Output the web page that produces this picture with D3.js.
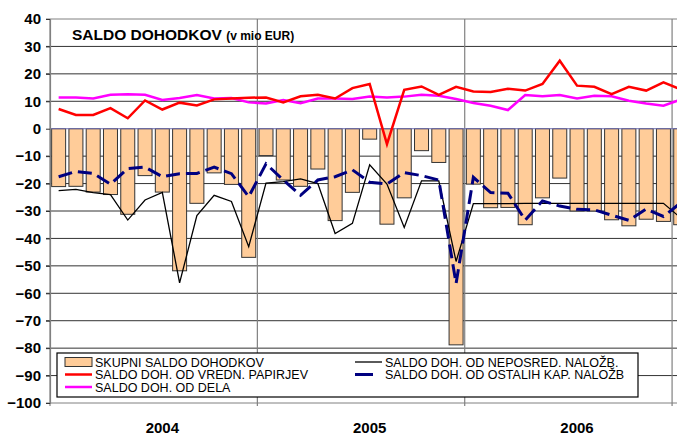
<!DOCTYPE html>
<html>
<head>
<meta charset="utf-8">
<script src="https://cdn.jsdelivr.net/npm/d3@7"></script>
<style>
  body { margin: 0; background: #fff; }
  svg { display: block; font-family: "Liberation Sans", Arial, sans-serif; }
</style>
</head>
<body>
<svg id="chart" width="677" height="436"></svg>
<script>
// ---- data (mio EUR, monthly) ----
var years = ["2004", "2005", "2006", "2007"];
var months = years.flatMap(y => ["01","02","03","04","05","06","07","08","09","10","11","12"].map(m => y + "-" + m)).slice(0, 37);

var skupni = [-21.1, -21.0, -23.1, -24.0, -31.2, -17.1, -23.1, -51.8, -27.2, -16.1, -20.3, -46.9,
              -9.8, -18.7, -21.0, -14.7, -33.5, -23.2, -3.8, -34.8, -25.2, -8.0, -12.3, -78.8,
              -20.2, -28.8, -28.7, -35.0, -25.2, -18.0, -30.0, -30.0, -33.2, -35.4, -33.0, -33.8, -35.0];

var vrednPapirjev = [7.2, 5.0, 5.0, 7.5, 3.8, 10.3, 7.0, 9.5, 8.5, 10.7, 11.0, 11.3,
                     11.4, 9.6, 11.8, 12.4, 11.0, 14.8, 16.3, -5.6, 14.2, 15.4, 12.3, 15.3,
                     13.6, 13.4, 14.6, 13.9, 16.3, 24.8, 15.7, 15.3, 12.6, 15.3, 13.9, 16.9, 14.3];

var dela = [11.4, 11.4, 11.0, 12.4, 12.6, 12.4, 10.5, 11.2, 12.3, 11.0, 11.2, 9.6,
            9.2, 10.5, 9.3, 11.0, 11.0, 10.8, 11.7, 11.4, 11.7, 12.4, 12.0, 10.8,
            9.4, 8.4, 6.8, 12.3, 11.8, 12.3, 11.0, 12.0, 11.8, 10.2, 9.2, 8.4, 10.6];

var neposred = [-22.6, -22.1, -23.3, -24.0, -33.3, -26.0, -23.2, -56.2, -31.7, -24.3, -26.5, -43.0,
                -19.8, -19.3, -18.3, -20.0, -38.2, -34.5, -13.2, -20.2, -36.0, -19.0, -19.0, -48.4,
                -27.3, -27.3, -27.3, -27.2, -27.2, -27.2, -27.2, -27.2, -27.2, -27.2, -27.2, -27.2, -32.5];

var ostalihKap = [-17.5, -15.6, -16.3, -20.2, -14.5, -14.0, -17.5, -16.4, -16.3, -14.0, -16.4, -24.8,
                  -12.8, -18.7, -24.3, -18.7, -17.5, -15.0, -19.5, -20.2, -16.0, -17.1, -18.7, -56.4,
                  -17.7, -23.3, -23.5, -33.3, -26.3, -28.2, -29.4, -29.6, -31.5, -33.4, -29.3, -32.0, -27.0];

var yTicks = d3.range(-100, 41, 10);

// ---- layout ----
var svg = d3.select("#chart");
var plotLeft = 50, plotTop = 19, plotBottom = 403;
var step = 17.28;

var x = d3.scaleBand()
  .domain(d3.range(months.length))
  .range([plotLeft, plotLeft + step * months.length])
  .paddingInner(0.19)
  .paddingOuter(0.095);

var y = d3.scaleLinear().domain([-100, 40]).range([plotBottom, plotTop]);

var cx = i => x(i) + x.bandwidth() / 2;

// gridlines
svg.append("g")
  .selectAll("line")
  .data(yTicks.filter(t => t !== 0))
  .enter().append("line")
  .attr("x1", plotLeft - 4).attr("x2", 677)
  .attr("y1", d => y(d)).attr("y2", d => y(d))
  .attr("stroke", d => (d === 40 || d === -100) ? "#808080" : "#333")
  .attr("stroke-width", 1);

// year separators
svg.append("g")
  .selectAll("line")
  .data(d3.range(0, 4))
  .enter().append("line")
  .attr("x1", k => plotLeft + k * 12 * step)
  .attr("x2", k => plotLeft + k * 12 * step)
  .attr("y1", y(40)).attr("y2", y(-100) + 3)
  .attr("stroke", "#808080")
  .attr("stroke-width", 1.2);

// bars
svg.append("g")
  .selectAll("rect")
  .data(skupni)
  .enter().append("rect")
  .attr("x", (d, i) => x(i))
  .attr("width", x.bandwidth())
  .attr("y", d => y(Math.max(0, d)))
  .attr("height", d => Math.abs(y(d) - y(0)))
  .attr("fill", "#FFCC99")
  .attr("stroke", "#333")
  .attr("stroke-width", 1);

// zero line
svg.append("line")
  .attr("x1", plotLeft).attr("x2", 677)
  .attr("y1", y(0)).attr("y2", y(0))
  .attr("stroke", "#7070b0")
  .attr("stroke-width", 1);

// y axis
var yAxis = svg.append("g")
  .attr("transform", "translate(" + plotLeft + ",0)")
  .call(d3.axisLeft(y).tickValues(yTicks).tickSize(4).tickPadding(5));
yAxis.select(".domain").attr("stroke", "#808080").attr("stroke-width", 1.2);
yAxis.selectAll(".tick line").attr("stroke", "#333");
yAxis.selectAll("text")
  .attr("font-size", 15).attr("font-weight", "bold")
  .attr("font-family", "Liberation Sans, Arial, sans-serif")
  .attr("fill", "#000");

// lines
var line = d3.line().x((d, i) => cx(i)).y(d => y(d));

svg.append("path").datum(neposred)
  .attr("d", line).attr("fill", "none")
  .attr("stroke", "#000").attr("stroke-width", 1.3);

svg.append("path").datum(ostalihKap)
  .attr("d", line).attr("fill", "none")
  .attr("stroke", "#000080").attr("stroke-width", 3)
  .attr("stroke-dasharray", "14,6");

svg.append("path").datum(dela)
  .attr("d", line).attr("fill", "none")
  .attr("stroke", "#FF00FF").attr("stroke-width", 2.5);

svg.append("path").datum(vrednPapirjev)
  .attr("d", line).attr("fill", "none")
  .attr("stroke", "#FF0000").attr("stroke-width", 2.5);

// year labels (under July of each year)
svg.append("g")
  .selectAll("text")
  .data(years.slice(0, 3))
  .enter().append("text")
  .attr("x", (d, k) => cx(k * 12 + 6))
  .attr("y", 433)
  .attr("text-anchor", "middle")
  .attr("font-size", 15).attr("font-weight", "bold")
  .text(d => d);

// title
var title = svg.append("text").attr("x", 72).attr("y", 40).attr("font-weight", "bold");
title.append("tspan").attr("font-size", 15.5).text("SALDO DOHODKOV ");
title.append("tspan").attr("font-size", 12).text("(v mio EUR)");

// legend
var lg = svg.append("g");
lg.append("rect")
  .attr("x", 57).attr("y", 353).attr("width", 581).attr("height", 44)
  .attr("fill", "#fff").attr("stroke", "#000").attr("stroke-width", 1.2);

var legendItems = [
  {label: "SKUPNI SALDO DOHODKOV", type: "bar", x: 65, y: 362},
  {label: "SALDO DOH. OD VREDN. PAPIRJEV", type: "line", color: "#FF0000", w: 2.5, x: 65, y: 374.5},
  {label: "SALDO DOH. OD DELA", type: "line", color: "#FF00FF", w: 2.5, x: 65, y: 387},
  {label: "SALDO DOH. OD NEPOSRED. NALOŽB.", type: "line", color: "#000", w: 1.3, x: 355, y: 362},
  {label: "SALDO DOH. OD OSTALIH KAP. NALOŽB", type: "dash", color: "#000080", w: 3, x: 355, y: 374.5}
];

legendItems.forEach(function(it) {
  if (it.type === "bar") {
    lg.append("rect").attr("x", it.x).attr("y", it.y - 4.5).attr("width", 27).attr("height", 9)
      .attr("fill", "#FFCC99").attr("stroke", "#333").attr("stroke-width", 1);
  } else {
    lg.append("line").attr("x1", it.x).attr("x2", it.x + 27)
      .attr("y1", it.y).attr("y2", it.y)
      .attr("stroke", it.color).attr("stroke-width", it.w)
      .attr("stroke-dasharray", it.type === "dash" ? "18,9" : null);
  }
  lg.append("text")
    .attr("x", it.x + 30).attr("y", it.y + 4.5)
    .attr("font-size", 12.5)
    .text(it.label);
});
</script>
</body>
</html>
